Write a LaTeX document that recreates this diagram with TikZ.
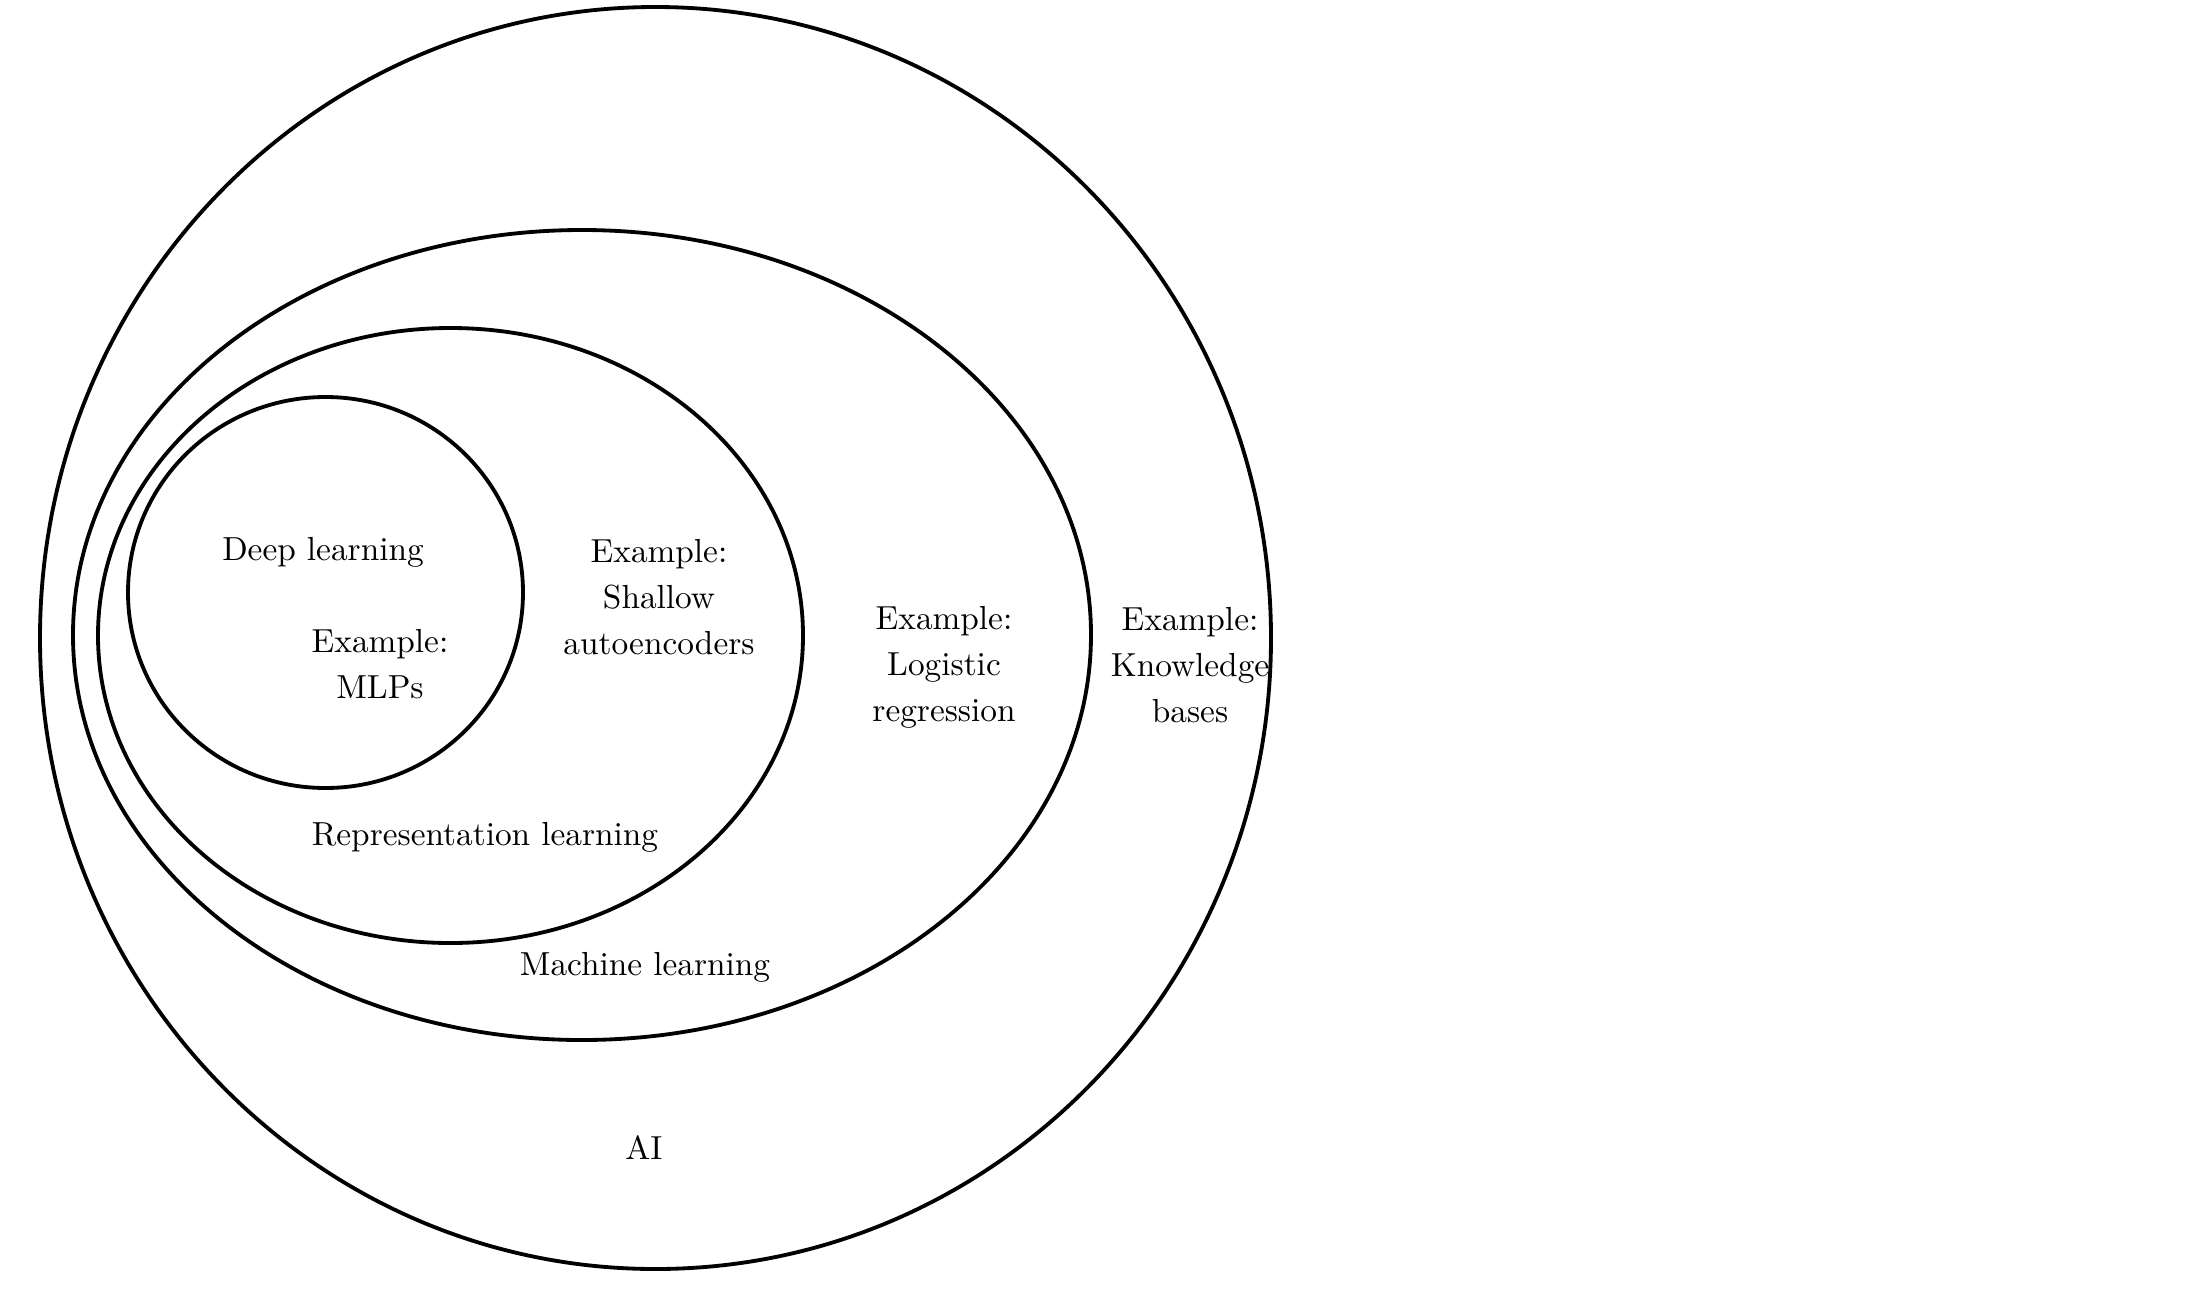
\documentclass[tikz,border=0pt]{standalone}
\begin{document}
\begin{tikzpicture}[x=0.3pt,y=-0.3pt,
  setline/.style={line width=1.15pt,black},
  lbl/.style={font=\fontsize{10}{13.8}\selectfont,align=center,inner sep=0pt,text=black}]
\useasboundingbox[fill=white] (0,0) rectangle (2190,1288);
% sets
\draw[setline] (655.5,638) ellipse [x radius=615.5, y radius=631];
\draw[setline] (582,635) ellipse [x radius=509, y radius=405];
\draw[setline] (450.5,635.5) ellipse [x radius=352.5, y radius=307.5];
\draw[setline] (325.5,592.5) ellipse [x radius=197.5, y radius=195.5];
% labels
\node[lbl] (dl) at (323,552) {Deep learning};
\node[lbl] (mlp) at (380,664) {Example:\\MLPs};
\node[lbl] (sae) at (659,597) {Example:\\Shallow\\autoencoders};
\node[lbl] (lr) at (944,667) {Example:\\Logistic\\regression};
\node[lbl] (kb) at (1190,665) {Example:\\Knowledge\\bases};
\node[lbl] (rl) at (485,837) {Representation learning};
\node[lbl] (ml) at (645,967) {Machine learning};
\node[lbl] (ai) at (644,1148) {AI};
\end{tikzpicture}
\end{document}
